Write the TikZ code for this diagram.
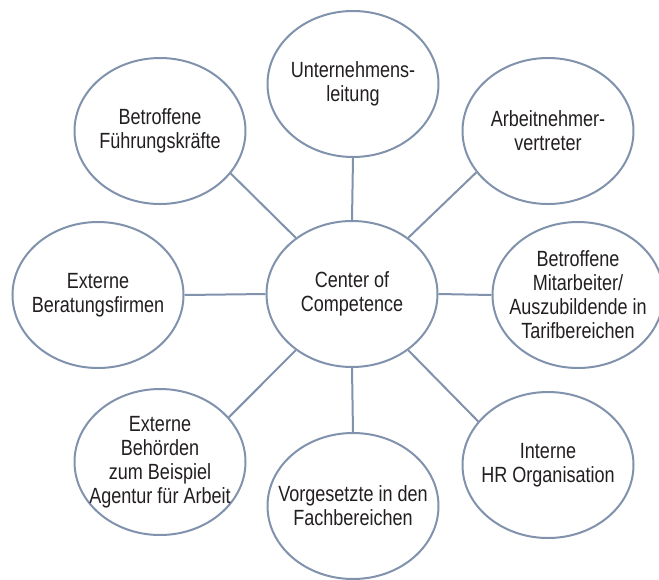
\documentclass[tikz,border=0pt]{standalone}
\usepackage{fontspec}
\setmainfont{Liberation Sans}[FakeStretch=0.82]
\usetikzlibrary{shapes.geometric}
\definecolor{rimblue}{RGB}{128,146,172}
\definecolor{inkgray}{RGB}{35,31,32}

\begin{document}
\begin{tikzpicture}[x=0.5pt,y=-0.5pt,
  party/.style={ellipse,draw=rimblue,line width=1pt,minimum width=85.5pt,minimum height=73pt,
    inner xsep=-15pt,inner ysep=-8pt,align=center,text=inkgray,font=\fontsize{11}{12}\selectfont},
  link/.style={draw=rimblue,line width=1pt}]
\useasboundingbox (0,0) rectangle (659,579);
\node[party] (ccc) at (352,294) {Center of\\Competence};
\node[party] (leitung) at (353,84) {Unternehmens-\\leitung};
\node[party] (vertreter) at (548,131) {Arbeitnehmer-\\vertreter};
\node[party] (fuehrung) at (160,131) {Betroffene\\Führungskräfte};
\node[party] (beratung) at (98,295) {Externe\\Beratungsfirmen};
\node[party] (mitarbeiter) at (578,295) {Betroffene\\Mitarbeiter/\\Auszubildende in\\Tarifbereichen};
\node[party] (behoerden) at (160,462) {Externe\\Behörden\\zum Beispiel\\Agentur für Arbeit};
\node[party] (vorgesetzte) at (353,506) {Vorgesetzte in den\\Fachbereichen};
\node[party] (hrorga) at (548,465) {Interne\\HR Organisation};
\draw[link] (ccc.90) -- (leitung.-90);
\draw[link] (ccc.45) -- (vertreter.210);
\draw[link] (ccc.0) -- (mitarbeiter.180);
\draw[link] (ccc.-45) -- (hrorga.148);
\draw[link] (ccc.-90) -- (vorgesetzte.90);
\draw[link] (ccc.225) -- (behoerden.33);
\draw[link] (ccc.180) -- (beratung.0);
\draw[link] (ccc.135) -- (fuehrung.-31);
\end{tikzpicture}
\end{document}
